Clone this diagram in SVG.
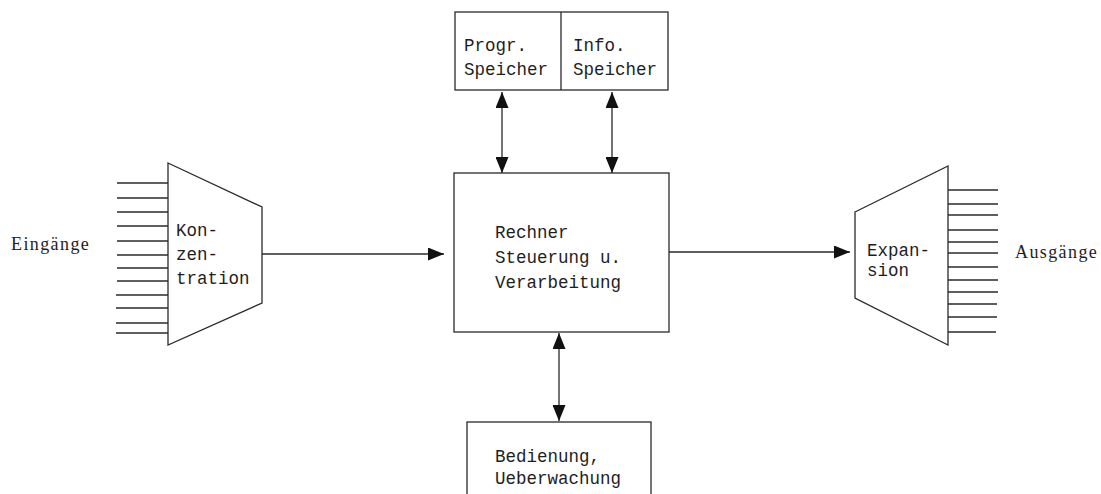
<svg xmlns="http://www.w3.org/2000/svg" width="1101" height="494" viewBox="0 0 1101 494">
<style>
.ln{stroke:#2a2a2a;stroke-width:1.3;fill:none}
.bx{stroke:#2a2a2a;stroke-width:1.3;fill:#fff}
.t{font-family:"Liberation Mono","DejaVu Sans Mono",monospace;font-size:17.5px;fill:#1e1e1e}
.s{font-family:"Liberation Serif","DejaVu Serif",serif;font-size:18px;letter-spacing:1.4px;fill:#1e1e1e}
</style>
<defs>
<marker id="ah" viewBox="0 0 16 13" refX="16" refY="6.5" markerWidth="16" markerHeight="13" markerUnits="userSpaceOnUse" orient="auto-start-reverse">
<path d="M0,0 L16,6.5 L0,13 z" fill="#111"/>
</marker>
</defs>
<rect width="1101" height="494" fill="#fff"/>
<g id="connectors">
<line class="ln" x1="262" y1="254" x2="444" y2="254" marker-end="url(#ah)"/>
<line class="ln" x1="669" y1="252" x2="850" y2="252" marker-end="url(#ah)"/>
<line class="ln" x1="502" y1="92" x2="502" y2="173" marker-start="url(#ah)" marker-end="url(#ah)"/>
<line class="ln" x1="612" y1="92" x2="612" y2="173" marker-start="url(#ah)" marker-end="url(#ah)"/>
<line class="ln" x1="559" y1="333" x2="559" y2="421" marker-start="url(#ah)" marker-end="url(#ah)"/>
</g>
<g id="eingaenge">
<text class="s" x="11" y="250">Eingänge</text>
</g>
<g id="konzentration">
<g class="ln">
<line x1="117" y1="183" x2="168" y2="183"/>
<line x1="117" y1="198" x2="168" y2="198"/>
<line x1="117" y1="212" x2="168" y2="212"/>
<line x1="117" y1="226" x2="168" y2="226"/>
<line x1="117" y1="241" x2="168" y2="241"/>
<line x1="117" y1="255" x2="168" y2="255"/>
<line x1="117" y1="268" x2="168" y2="268"/>
<line x1="117" y1="281" x2="168" y2="281"/>
<line x1="116" y1="295" x2="168" y2="295"/>
<line x1="116" y1="308" x2="168" y2="308"/>
<line x1="116" y1="323" x2="168" y2="323"/>
<line x1="116" y1="333" x2="168" y2="333"/>
</g>
<polygon class="bx" points="168,163 262,207 262,303 168,345"/>
<text class="t" x="176" y="236">Kon-</text>
<text class="t" x="176" y="260">zen-</text>
<text class="t" x="176" y="284">tration</text>
</g>
<g id="speicher">
<rect class="bx" x="455" y="12" width="213" height="78"/>
<line class="ln" x1="561" y1="12" x2="561" y2="90"/>
<text class="t" x="464" y="51">Progr.</text>
<text class="t" x="464" y="75">Speicher</text>
<text class="t" x="573" y="51">Info.</text>
<text class="t" x="573" y="75">Speicher</text>
</g>
<g id="rechner">
<rect class="bx" x="454" y="173" width="215" height="159"/>
<text class="t" x="495" y="238">Rechner</text>
<text class="t" x="495" y="263">Steuerung u.</text>
<text class="t" x="495" y="288">Verarbeitung</text>
</g>
<g id="bedienung">
<rect class="bx" x="467" y="422" width="184" height="90"/>
<text class="t" x="495" y="462">Bedienung,</text>
<text class="t" x="495" y="484">Ueberwachung</text>
</g>
<g id="expansion">
<g class="ln">
<line x1="948" y1="190" x2="998" y2="190"/>
<line x1="948" y1="204" x2="998" y2="204"/>
<line x1="948" y1="215" x2="998" y2="215"/>
<line x1="948" y1="230" x2="998" y2="230"/>
<line x1="948" y1="242" x2="998" y2="242"/>
<line x1="948" y1="253" x2="998" y2="253"/>
<line x1="948" y1="267" x2="998" y2="267"/>
<line x1="948" y1="280" x2="998" y2="280"/>
<line x1="948" y1="292" x2="998" y2="292"/>
<line x1="948" y1="304" x2="997" y2="304"/>
<line x1="948" y1="317" x2="997" y2="317"/>
<line x1="948" y1="332" x2="996" y2="332"/>
</g>
<polygon class="bx" points="855,212 948,166 948,345 855,298"/>
<text class="t" x="867" y="256">Expan-</text>
<text class="t" x="867" y="276">sion</text>
</g>
<g id="ausgaenge">
<text class="s" x="1015" y="258">Ausgänge</text>
</g>
</svg>
